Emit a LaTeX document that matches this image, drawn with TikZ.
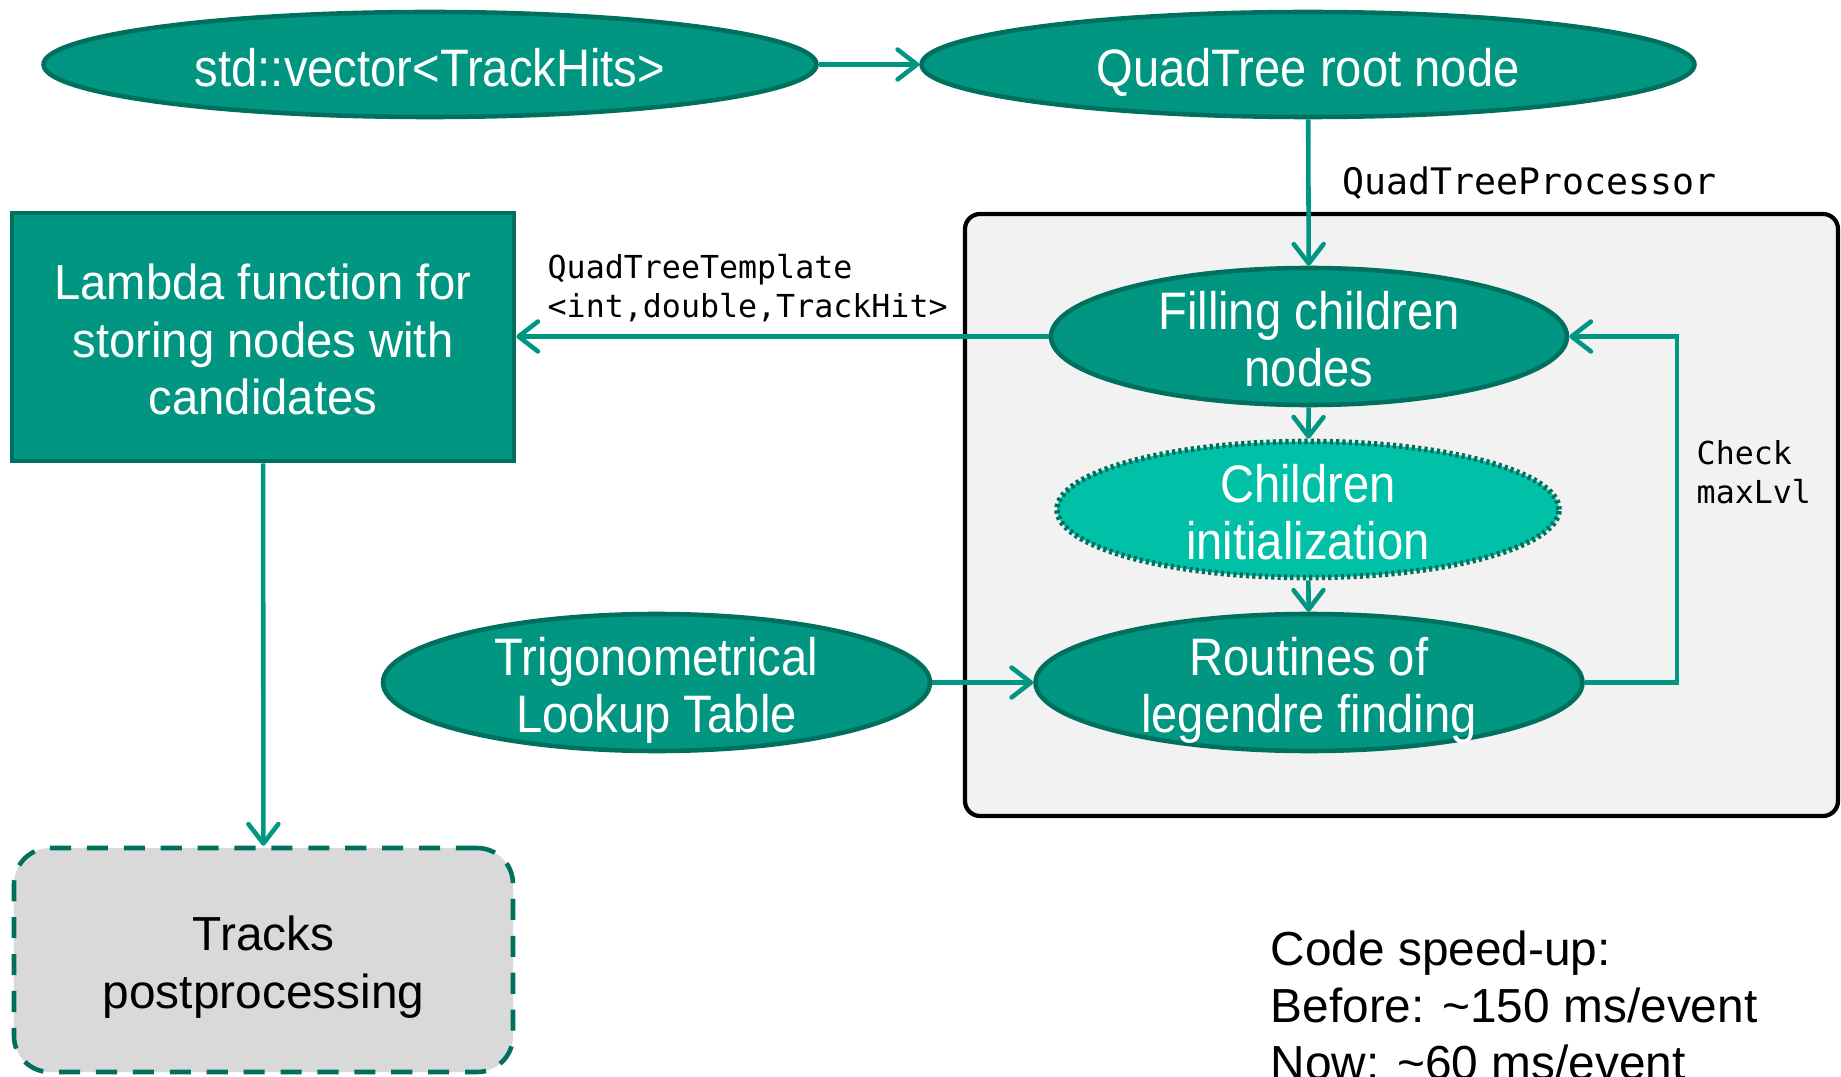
\documentclass[tikz,border=0pt]{standalone}
\usepackage{fontspec}
\setmainfont{Liberation Sans}
\newfontfamily\ellfamily[FakeStretch=0.895]{Liberation Sans}
\newfontfamily\boxfamily[FakeStretch=0.96]{Liberation Sans}
\setmonofont{DejaVu Sans Mono}
\usetikzlibrary{arrows.meta,shapes.geometric}

\definecolor{qtteal}{HTML}{009682}
\definecolor{qtdark}{HTML}{00705E}
\definecolor{qtlight}{HTML}{00C1A7}
\definecolor{procbg}{HTML}{F2F2F2}
\definecolor{postbg}{HTML}{D9D9D9}

\newcommand{\tildesym}{\char"7E\relax}

\tikzset{
  tealell/.style={ellipse, draw=qtdark, line width=1.3pt, fill=qtteal,
    text=white, align=center, inner xsep=0pt, inner ysep=-3pt,
    text height=28.6pt, text depth=0pt,
    font=\ellfamily\fontsize{15}{16.4}\selectfont},
  oneline/.style={text height=12.5pt, text depth=0pt},
  initell/.style={tealell, fill=qtlight, line width=1.6pt,
    dash pattern=on 0.9pt off 0.9pt},
  flow/.style={draw=qtteal, line width=1.3pt,
    -{Straight Barb[length=5.5pt,width=8.5pt,round]}},
  monolabel/.style={font=\ttfamily\fontsize{9}{11}\selectfont, align=left,
    inner sep=0pt, anchor=west},
  speedline/.style={font=\fontsize{13.6}{16.4}\selectfont, inner sep=0pt,
    anchor=base west}
}

\begin{document}
\begin{tikzpicture}
\useasboundingbox (0,0) rectangle (18.41,-10.77);
\clip (0,0) rectangle (18.41,-10.77);

% processing container
\node[draw=black, line width=1.2pt, fill=procbg, rounded corners=0.15cm,
  minimum width=8.73cm, minimum height=6.02cm, inner sep=0pt]
  (proc) at (14.015,-5.15) {};

% nodes
\node[tealell, oneline, minimum width=7.73cm, minimum height=1.05cm]
  (vec) at (4.30,-0.645) {std::vector<TrackHits>};
\node[tealell, oneline, minimum width=7.73cm, minimum height=1.05cm]
  (root) at (13.08,-0.645) {QuadTree root node};
\node[tealell, minimum width=5.16cm, minimum height=1.37cm]
  (fill) at (13.09,-3.365) {Filling children\\nodes};
\node[initell, minimum width=5.02cm, minimum height=1.36cm]
  (init) at (13.08,-5.095) {Children\\initialization};
\node[tealell, minimum width=5.47cm, minimum height=1.37cm]
  (rout) at (13.09,-6.825) {Routines of\\legendre finding};
\node[tealell, minimum width=5.47cm, minimum height=1.37cm]
  (trig) at (6.565,-6.825) {Trigonometrical\\Lookup Table};

\node[draw=qtdark, line width=1.3pt, fill=qtteal, text=white, align=center,
  inner sep=0pt, minimum width=5.02cm, minimum height=2.48cm,
  text height=44.2pt, text depth=0pt,
  font=\boxfamily\fontsize{14}{16.4}\selectfont]
  (lambda) at (2.63,-3.37) {Lambda function for\\storing nodes with\\candidates};

\node[draw=qtdark, line width=1.3pt, dash pattern=on 6pt off 4.5pt,
  fill=postbg, rounded corners=0.36cm, align=center, inner sep=0pt,
  minimum width=4.99cm, minimum height=2.24cm,
  text height=27.5pt, text depth=0pt,
  font=\fontsize{13.6}{16.4}\selectfont]
  (tracks) at (2.635,-9.60) {Tracks\\postprocessing};

% connectors
\coordinate (loopx) at (16.77,0);
\draw[flow] (vec) -- (root);
\draw[flow] (root) -- (fill);
\draw[flow] (fill.west) -- (fill.west -| lambda.east);
\draw[flow] (fill) -- (init);
\draw[flow] (init) -- (rout);
\draw[flow] (trig) -- (rout);
\draw[flow] (rout.east) -- (rout.east -| loopx) -- (fill.east -| loopx) -- (fill.east);
\draw[flow] (lambda) -- (tracks);

% labels
\node[monolabel, font=\ttfamily\fontsize{10.4}{12}\selectfont]
  (proclabel) at (13.42,-1.83) {QuadTreeProcessor};
\node[monolabel] (tmpllabel) at (5.47,-2.88)
  {QuadTreeTemplate\\<int,double,TrackHit>};
\node[monolabel] (checklabel) at (16.96,-4.725) {Check\\maxLvl};

% timing note
\node[speedline] (speedA) at (12.70,-9.65) {Code speed-up:};
\node[speedline] (speedB) at (12.70,-10.22) {Before: \tildesym150 ms/event};
\node[speedline] (speedC) at (12.70,-10.79) {Now: \tildesym60 ms/event};
\end{tikzpicture}
\end{document}
